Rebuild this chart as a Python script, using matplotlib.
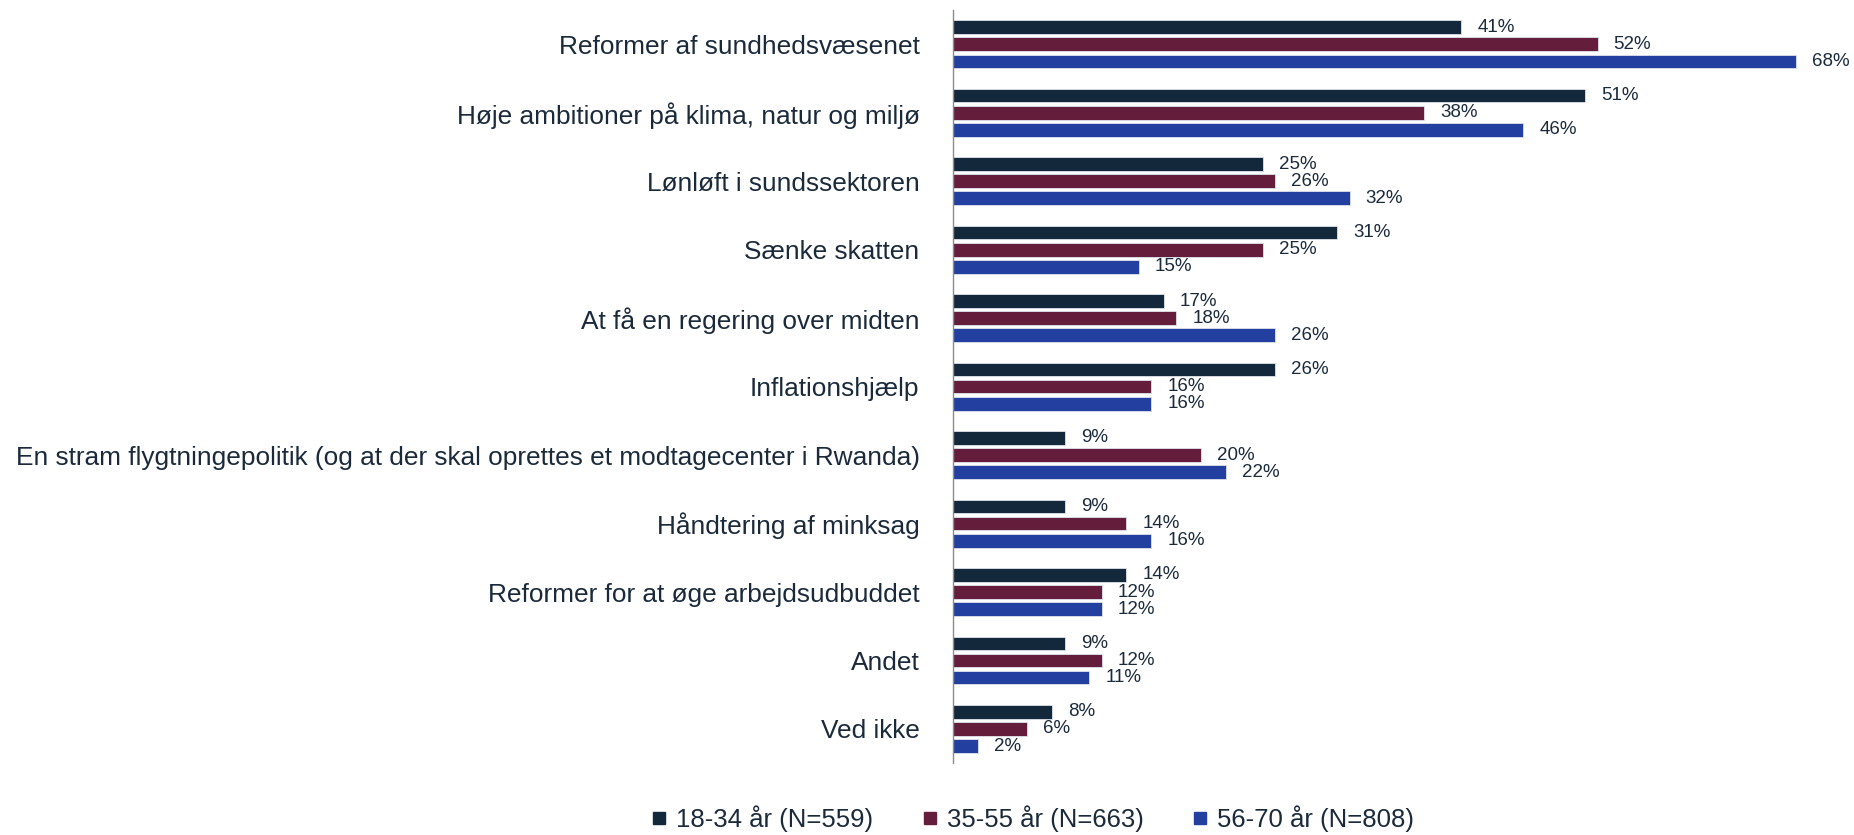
import numpy as np
import matplotlib.pyplot as plt
from matplotlib.lines import Line2D

plt.rcParams['font.family'] = ['Liberation Sans', 'DejaVu Sans']

categories = [
    'Reformer af sundhedsvæsenet',
    'Høje ambitioner på klima, natur og miljø',
    'Lønløft i sundssektoren',
    'Sænke skatten',
    'At få en regering over midten',
    'Inflationshjælp',
    'En stram flygtningepolitik (og at der skal oprettes et modtagecenter i Rwanda)',
    'Håndtering af minksag',
    'Reformer for at øge arbejdsudbuddet',
    'Andet',
    'Ved ikke',
]
series_names = ['18-34 år (N=559)', '35-55 år (N=663)', '56-70 år (N=808)']
age_18_34 = [41, 51, 25, 31, 17, 26, 9, 9, 14, 9, 8]
age_35_55 = [52, 38, 26, 25, 18, 16, 20, 14, 12, 12, 6]
age_56_70 = [68, 46, 32, 15, 26, 16, 22, 16, 12, 11, 2]

colors = ['#14283c', '#641e3c', '#233f9f']
text_color = '#1b2a3b'

fig = plt.figure(figsize=(18.54, 8.35), dpi=100)
ax = fig.add_axes([0.514, 0.086, 0.468, 0.902])

y = np.arange(len(categories))
offsets = [-0.25, 0.0, 0.25]
for vals, off, col in zip([age_18_34, age_35_55, age_56_70], offsets, colors):
    bars = ax.barh(y + off, vals, height=0.2, color=col, edgecolor='#dfe3ee', linewidth=0.6)
    for b, v in zip(bars, vals):
        ax.text(b.get_width() + 1.3, b.get_y() + b.get_height() / 2, f'{v}%',
                va='center', ha='left', fontsize=13.5, color=text_color)

ax.set_xlim(0, 70)
ax.set_ylim(len(categories) - 0.5, -0.5)
ax.set_yticks(y)
ax.set_yticklabels(categories, fontsize=18.9, color=text_color)
ax.tick_params(axis='y', length=0, pad=24)
ax.set_xticks([])
for s in ['top', 'right', 'bottom']:
    ax.spines[s].set_visible(False)
ax.spines['left'].set_color('#8c8c8c')
ax.spines['left'].set_linewidth(1.0)

# legend sits right of figure centre in the original
handles = [Line2D([], [], marker='s', linestyle='', markersize=9, color=c) for c in colors]
fig.legend(handles, series_names, loc='center', bbox_to_anchor=(0.557, 0.019),
           ncol=3, frameon=False, fontsize=18.5, handlelength=0.6, handletextpad=0.35,
           columnspacing=1.9, labelcolor=text_color)

fig.savefig('out.png', dpi=100)
